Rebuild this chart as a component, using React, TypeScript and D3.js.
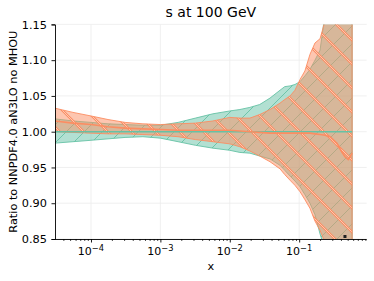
import React, { useEffect, useRef } from 'react';
import * as d3 from 'd3';

// x grid (momentum fraction) shared by both bands
const xGrid = [3e-5, 5.5e-5, 1e-4, 1.76e-4, 3.1e-4, 5.6e-4, 1e-3, 1.8e-3, 3.2e-3, 5.7e-3,
  1e-2, 1.4e-2, 1.95e-2, 2.7e-2, 3.8e-2, 5.3e-2, 6.2e-2, 7.4e-2, 8.7e-2, 0.103,
  0.121, 0.143, 0.169, 0.2, 0.236, 0.278, 0.35, 0.41, 0.457, 0.51, 0.58];

// reference set (green): ratio to itself
const refCentral = [1, 1, 1, 1, 1, 1, 1, 1, 1, 1, 1, 1, 1, 1, 1, 1, 1, 1, 1, 1,
  1, 1, 1, 1, 1, 1, 1, 1, 1, 1, 1];
const refUpper = [1.018, 1.015, 1.013, 1.011, 1.010, 1.009, 1.009, 1.013, 1.019, 1.025,
  1.029, 1.031, 1.034, 1.038, 1.047, 1.058, 1.063, 1.064, 1.066, 1.070,
  1.078, 1.087, 1.100, 1.114, 1.165, 1.22, 1.28, 1.32, 1.35, 1.38, 1.40];
const refLower = [0.984, 0.986, 0.988, 0.990, 0.992, 0.993, 0.991, 0.986, 0.981, 0.977,
  0.974, 0.971, 0.970, 0.966, 0.962, 0.953, 0.946, 0.938, 0.931, 0.923,
  0.912, 0.900, 0.884, 0.857, 0.835, 0.80, 0.76, 0.73, 0.70, 0.68, 0.66];

// compared set (orange)
const cmpCentral = [1.015, 1.012, 1.010, 1.007, 1.005, 1.004, 1.003, 1.002, 1.002, 1.002,
  1.002, 1.001, 1.000, 0.999, 0.998, 0.998, 0.998, 0.998, 0.998, 0.998,
  0.998, 0.998, 0.997, 0.996, 0.995, 0.993, 0.984, 0.972, 0.965, 0.961, 0.970];
const cmpUpper = [1.033, 1.027, 1.022, 1.017, 1.013, 1.011, 1.010, 1.011, 1.012, 1.015,
  1.020, 1.019, 1.019, 1.024, 1.031, 1.040, 1.045, 1.050, 1.058, 1.073,
  1.085, 1.108, 1.124, 1.130, 1.155, 1.22, 1.28, 1.32, 1.35, 1.38, 1.40];
const cmpLower = [1.000, 0.999, 0.998, 0.997, 0.997, 0.996, 0.995, 0.993, 0.989, 0.986,
  0.983, 0.979, 0.973, 0.966, 0.958, 0.948, 0.940, 0.932, 0.925, 0.916,
  0.905, 0.893, 0.875, 0.862, 0.845, 0.80, 0.76, 0.73, 0.70, 0.68, 0.66];

const yTicks = [0.85, 0.90, 0.95, 1.00, 1.05, 1.10, 1.15];
const xTicks = [1e-4, 1e-3, 1e-2, 1e-1];
const xTickExps = ['\u22124', '\u22123', '\u22122', '\u22121'];

const marker = { x: 0.457, y: 0.8535 };

const GREEN = '#66c2a5';
const ORANGE = '#fc8d62';
const FONT = 'DejaVu Sans, sans-serif';

function RatioChart(): JSX.Element {
  const svgRef = useRef<SVGSVGElement>(null);

  useEffect(() => {
    const svg = d3.select(svgRef.current);
    svg.selectAll('*').remove();

    const width = 374;
    const height = 281;
    const margin = { top: 24.4, right: 7.3, bottom: 42, left: 55 };

    const x = d3.scaleLog().domain([3.03e-5, 0.94]).range([margin.left, width - margin.right]);
    const y = d3.scaleLinear().domain([0.85, 1.15]).range([height - margin.bottom, margin.top]);

    const defs = svg.append('defs');
    defs.append('clipPath').attr('id', 'plotclip')
      .append('rect')
      .attr('x', margin.left).attr('y', margin.top)
      .attr('width', width - margin.left - margin.right)
      .attr('height', height - margin.top - margin.bottom);

    // "/" hatch for green
    const gs = 18;
    const gp = defs.append('pattern').attr('id', 'hatchGreen')
      .attr('patternUnits', 'userSpaceOnUse').attr('width', gs).attr('height', gs);
    gp.append('path')
      .attr('d', `M0,${gs}L${gs},0M-2,2L2,-2M${gs - 2},${gs + 2}L${gs + 2},${gs - 2}`)
      .attr('stroke', GREEN).attr('stroke-width', 0.9).attr('fill', 'none');

    // "\" hatch for orange
    const os = 24;
    const op = defs.append('pattern').attr('id', 'hatchOrange')
      .attr('patternUnits', 'userSpaceOnUse').attr('width', os).attr('height', os);
    const od = `M0,0L${os},${os}M-2,${os - 2}L2,${os + 2}M${os - 2},-2L${os + 2},2`;
    op.append('path').attr('d', od).attr('stroke', ORANGE).attr('stroke-width', 2.4).attr('fill', 'none');
    op.append('path').attr('d', od).attr('stroke', '#fdd5c4').attr('stroke-width', 0.8).attr('fill', 'none');

    // grid
    const grid = svg.append('g').attr('stroke', '#ececec').attr('stroke-width', 0.8);
    grid.selectAll('.gx').data(xTicks).join('line')
      .attr('x1', d => x(d)).attr('x2', d => x(d))
      .attr('y1', margin.top).attr('y2', height - margin.bottom);
    grid.selectAll('.gy').data(yTicks).join('line')
      .attr('x1', margin.left).attr('x2', width - margin.right)
      .attr('y1', d => y(d)).attr('y2', d => y(d));

    const plot = svg.append('g').attr('clip-path', 'url(#plotclip)');

    const bands = [
      { lo: refLower, hi: refUpper, color: GREEN, hatch: 'url(#hatchGreen)' },
      { lo: cmpLower, hi: cmpUpper, color: ORANGE, hatch: 'url(#hatchOrange)' },
    ];

    bands.forEach(b => {
      const pts = xGrid.map((xv, i) => ({ x: xv, lo: b.lo[i], hi: b.hi[i] }));
      const area = d3.area<{ x: number; lo: number; hi: number }>()
        .x(d => x(d.x)).y0(d => y(d.lo)).y1(d => y(d.hi));
      plot.append('path').datum(pts)
        .attr('d', area).attr('fill', b.color).attr('fill-opacity', 0.5);
      plot.append('path').datum(pts)
        .attr('d', area).attr('fill', b.hatch);
      plot.append('path').datum(pts)
        .attr('d', area).attr('fill', 'none')
        .attr('stroke', b.color).attr('stroke-width', 1).attr('stroke-opacity', 0.9);
    });

    const line = d3.line<number>()
      .x((_, i) => x(xGrid[i])).y(d => y(d));

    plot.append('path').datum(refCentral)
      .attr('d', line).attr('fill', 'none')
      .attr('stroke', GREEN).attr('stroke-width', 1.6);
    plot.append('path').datum(cmpCentral)
      .attr('d', line).attr('fill', 'none')
      .attr('stroke', ORANGE).attr('stroke-width', 1.6);

    plot.append('rect')
      .attr('x', x(marker.x) - 1.5).attr('y', y(marker.y) - 1.5)
      .attr('width', 3).attr('height', 3).attr('fill', '#222');

    // y axis
    const yAxis = svg.append('g')
      .attr('transform', `translate(${margin.left},0)`)
      .call(d3.axisLeft(y).tickValues(yTicks).tickFormat(d3.format('.2f')).tickSize(3.5).tickPadding(4.5));
    yAxis.selectAll('text').attr('font-family', FONT).attr('font-size', 11.3).attr('fill', '#000');
    yAxis.select('.domain').attr('stroke', '#000').attr('stroke-width', 0.9);
    yAxis.selectAll('line').attr('stroke', '#000').attr('stroke-width', 0.9);

    // x axis: minor ticks
    const minor = x.ticks().filter(t => !xTicks.some(m => Math.abs(m - t) / m < 1e-6));
    const xMinor = svg.append('g')
      .attr('transform', `translate(0,${height - margin.bottom})`)
      .call(d3.axisBottom(x).tickValues(minor).tickFormat(() => '').tickSize(2));
    xMinor.select('.domain').remove();
    xMinor.selectAll('line').attr('stroke', '#000').attr('stroke-width', 0.7);

    const xAxis = svg.append('g')
      .attr('transform', `translate(0,${height - margin.bottom})`)
      .call(d3.axisBottom(x).tickValues(xTicks).tickFormat(() => '').tickSize(3.5));
    xAxis.select('.domain').attr('stroke', '#000').attr('stroke-width', 0.9)
      .attr('d', `M${margin.left},0.5H${width - margin.right}`);
    xAxis.selectAll('line').attr('stroke', '#000').attr('stroke-width', 0.9);

    const xl = svg.append('g').attr('font-family', FONT).attr('fill', '#000');
    xTicks.forEach((t, i) => {
      const txt = xl.append('text')
        .attr('x', x(t)).attr('y', 255).attr('text-anchor', 'middle').attr('font-size', 11);
      txt.append('tspan').text('10');
      txt.append('tspan').attr('dy', -4.2).attr('font-size', 8.3).text(xTickExps[i]);
    });

    // labels
    svg.append('text')
      .attr('x', (margin.left + width - margin.right) / 2).attr('y', 270)
      .attr('text-anchor', 'middle').attr('font-family', FONT).attr('font-size', 11.3)
      .text('x');
    svg.append('text')
      .attr('transform', `translate(16.5,${(margin.top + height - margin.bottom) / 2}) rotate(-90)`)
      .attr('text-anchor', 'middle').attr('font-family', FONT).attr('font-size', 11.3)
      .text('Ratio to NNPDF4.0 aN3LO no MHOU');
    svg.append('text')
      .attr('x', (margin.left + width - margin.right) / 2).attr('y', 17.3)
      .attr('text-anchor', 'middle').attr('font-family', FONT).attr('font-size', 14)
      .text('s at 100 GeV');
  }, []);

  return (
    <svg ref={svgRef} width={374} height={281}
      style={{ position: 'absolute', left: 0, top: 0, background: '#fff' }} />
  );
}

export default function App(): JSX.Element {
  return <RatioChart />;
}
